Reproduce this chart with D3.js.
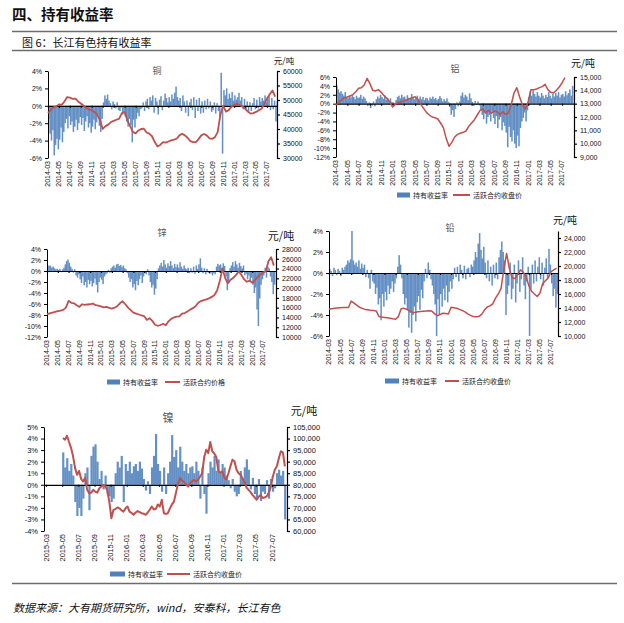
<!DOCTYPE html>
<html><head><meta charset="utf-8">
<script src="https://cdn.jsdelivr.net/npm/d3@7"></script>
<style>
body{margin:0;background:#fff}
text{font-family:"Liberation Sans",Arial,"Noto Sans CJK SC",sans-serif}
.cjk{font-family:"Noto Sans CJK SC","Liberation Sans",sans-serif}
</style>
</head><body><svg id="c" width="624" height="623"></svg>
<script>
// ---------------- DATA ----------------
// tick labels (every 2 months)
const labels2014 = ["2014-03","2014-05","2014-07","2014-09","2014-11","2015-01","2015-03","2015-05","2015-07","2015-09","2015-11","2016-01","2016-03","2016-05","2016-07","2016-09","2016-11","2017-01","2017-03","2017-05","2017-07"];
const labels2015 = ["2015-03","2015-05","2015-07","2015-09","2015-11","2016-01","2016-03","2016-05","2016-07","2016-09","2016-11","2017-01","2017-03","2017-05","2017-07"];

// Copper: holding return (%), weekly from 2014-03
const cuReturn = [
-1.5,-3.2,-4.0,-2.8, -5.7,-4.5,-3.8,-5.0, -3.9,-2.5,-4.2,-3.0, -2.0,-1.5,-2.6,-1.2,
-2.2,-1.8,-3.0,-2.4, -1.6,-2.8,-2.0,-1.3, -2.2,-1.4,-2.9,-1.8, -1.2,-2.5,-2.0,-3.1,
-2.4,-1.6,-2.7,-1.9, -1.0,-2.3,-3.0,-1.5, 0.4,1.2,0.8,1.3, 0.6,0.3,-0.4,0.5,
0.2,-0.3,0.4,-0.5, -0.6,-0.2,-1.0,-0.8, -1.2,-1.8,-2.4,-1.5, -2.2,-4.2,-1.6,-2.5,
-1.5,-0.8,-1.2,-0.4, -0.3,0.4,-0.6,0.5, 0.8,-0.4,1.0,0.6, 1.2,-0.8,0.9,0.5,
-1.0,0.7,1.1,-0.5, 0.6,1.4,0.9,0.4, 1.0,0.5,1.3,0.8, 1.5,2.2,1.0,0.6,
0.9,-0.6,1.2,0.5, -0.8,0.6,-1.2,0.4, 0.8,-0.5,1.0,-1.4, 0.7,-0.6,0.9,-0.9,
0.5,-0.8,0.6,-0.4, 0.8,-0.3,0.5,-0.7, -0.5,0.4,-0.9,0.3, -0.6,-1.2,3.8,-5.5,
1.8,1.2,2.0,0.8, 1.4,0.9,1.6,0.6, 1.2,0.7,1.0,1.5, 0.6,1.0,-0.4,0.8,
-0.5,0.5,-0.8,0.4, -0.6,0.3,0.9,-0.4, 0.7,-0.3,1.0,0.5, 0.9,0.6,1.2,0.4,
0.8,1.1,-0.5,0.9, -0.4,0.6,-1.8,0.5];
// Copper: active contract close (yuan/t), half-monthly from 2014-03
const cuPrice = [
45500,46500,47500,47800,48500,48300,49500,51000,50800,50400,50500,49500,48800,48000,47200,46800,
46500,45800,45000,43000,40000,41000,41500,42400,42800,43200,43600,45500,45800,43000,41000,39000,
38500,39500,40000,40100,38800,38400,37500,35500,34000,34500,35500,35300,35700,36100,36300,36650,
37800,38400,37800,37000,35800,35500,35500,36500,37800,38300,37800,36800,36600,37200,39000,45000,
48000,46000,46500,47600,48300,48700,48300,47800,47000,46000,45300,45500,45900,46500,47000,48500,
50500,52000,53300,51200];

// Aluminium
const alReturn = [
4.1,3.2,2.5,2.8, 2.2,1.8,2.6,1.5, 1.2,1.8,1.4,2.0, 1.5,1.0,1.8,1.3,
1.4,2.0,1.1,1.6, 1.2,0.6,-0.5,0.3, -1.0,-0.4,0.5,-0.6, 1.0,1.6,1.2,2.0,
1.5,1.1,1.8,0.9, 1.3,0.7,1.2,0.4, 0.3,-0.3,0.8,1.5, 1.8,1.2,2.0,1.4,
1.6,1.0,1.9,1.3, 1.2,2.2,1.5,1.0, 1.4,1.8,1.1,1.6, 1.0,1.5,0.8,1.3,
1.2,0.7,1.4,1.1, 1.6,1.0,1.3,0.8, 1.1,1.7,1.2,0.5, 1.0,0.6,1.2,0.4,
-0.8,-2.5,-1.5,-3.0, -1.2,0.3,-0.6,0.5, 1.8,2.5,1.4,2.0, 1.6,0.8,2.3,1.2,
0.4,-0.5,0.6,-0.3, 0.5,-0.4,-1.5,-2.5, -3.5,-2.0,-4.5,-3.0, -2.5,-4.0,-1.8,-3.2,
-4.6,-2.8,-5.5,-3.6, -3.0,-6.0,-4.2,-5.0, -6.5,-9.8,-5.2,-7.5, -8.5,-6.0,-9.0,-10.0,
-7.2,-9.6,-5.5,-4.0, -3.2,-2.0,-4.0,-1.5, 1.5,2.8,1.8,3.0, 2.2,1.6,2.6,1.8,
1.4,2.4,1.8,1.2, 2.0,1.5,2.6,1.8, 1.2,2.2,1.6,2.4, 1.8,2.6,1.4,2.0,
2.2,1.6,2.8,1.9, 2.4,3.2,1.8,4.0];
const alPrice = [
12900,13100,13300,13450,13500,13580,13680,13900,14150,14200,14400,14900,14500,14000,13950,14050,
13850,13600,13400,13150,12750,12950,13100,13150,13200,13270,13380,13450,13520,13300,12950,12650,
12350,12150,12000,11950,11850,11550,11200,10400,9800,10100,10500,10700,10780,10850,10950,11300,
11550,11800,12150,12500,12600,12300,12500,12280,12450,12400,12150,12400,12200,12300,12900,13800,
14200,13500,12900,12600,13150,14050,14050,14100,14200,14280,14450,14050,13850,13800,14000,14250,
14550,14950];

// Zinc
const znReturn = [
1.1,0.9,1.0,0.6, 0.8,0.5,0.3,0.4, 0.2,0.4,-0.2,0.3, 0.6,1.2,1.8,2.1,
1.5,0.8,0.4,-0.3, 0.3,-0.8,-1.2,-0.6, -1.5,-2.2,-1.0,-2.6, -2.0,-3.0,-1.6,-2.4,
-1.8,-2.8,-2.2,-1.4, -2.5,-3.9,-2.0,-1.2, -1.6,-2.4,-1.0,-0.6, -0.4,0.2,-0.3,0.5,
0.8,1.0,0.6,1.2, 1.3,0.9,1.1,0.7, 1.0,0.5,0.3,-0.4, -1.2,-2.0,-1.5,-3.0,
-2.4,-3.5,-1.8,-2.6, -1.5,-0.8,-2.2,-1.0, -0.4,-0.6,0.3,-0.8, -2.0,-3.0,-2.5,-4.3,
-3.2,-1.5,0.5,1.0, 1.5,0.8,2.0,1.2, 0.6,1.4,0.9,1.8, 1.0,0.5,1.3,0.7,
1.2,0.6,1.6,0.8, 0.4,1.0,0.5,0.3, 0.6,-0.4,0.5,-0.3, 0.8,-0.5,1.0,0.4,
1.2,2.3,0.6,-0.4, 0.5,-0.6,0.4,-0.3, -0.5,-0.3,-0.8,-0.4, -0.6,0.8,1.3,1.0,
1.2,0.6,1.4,0.9, -1.0,-3.5,-2.0,0.5, 1.0,1.6,0.8,1.8, 1.2,0.6,1.5,0.9,
0.5,1.0,-0.8,-0.5, -1.5,-0.8,-2.0,-1.2, -2.5,-4.0,-3.0,-7.0, -10.0,-5.0,-2.5,-1.5,
-0.8,0.6,-1.2,0.8, 0.5,-1.0,-2.0,-4.2, -2.5];
const znPrice = [
14700,14850,15000,15150,15300,15400,15550,16000,17400,17000,16900,16500,16150,16700,16550,16650,
16700,16850,16500,16400,16250,16050,16150,15950,15800,16000,16300,16900,17300,16700,16000,15500,
15000,14800,14600,14400,14250,13500,13850,13300,12500,12300,12450,12700,12400,13200,13700,14000,
14150,14200,14800,14900,15200,15600,15900,16300,17000,17350,17550,17700,17900,18200,18600,19500,
21500,24000,22000,21000,21700,22100,22700,23400,22700,21800,21300,21550,21100,21600,22300,22800,
23200,23400,25500,26300,24600];

// Lead
const pbReturn = [
0.4,0.2,-0.3,0.5, 0.3,-0.2,0.4,0.2, -0.3,0.5,0.3,0.6, 0.8,1.2,1.0,1.3,
4.0,1.2,0.8,1.0, 0.6,1.2,0.4,0.9, 0.5,0.8,-0.4,0.3, -0.5,-1.5,0.3,-0.8,
-1.0,-2.0,-1.4,-3.0, -2.4,-4.5,-2.0,-3.2, -1.8,-2.6,-1.2,-2.0, -1.5,-0.8,-1.8,-1.0,
-0.5,0.6,1.7,0.8, -0.5,-2.0,-3.0,-2.4, -3.5,-5.2,-3.8,-5.7, -4.0,-3.2,-4.6,-2.8,
-2.2,-3.5,-1.6,-2.4, -0.8,0.4,-0.5,1.0, 0.3,-0.6,-1.2,-2.0, -3.0,-6.0,-2.5,-4.0,
-2.0,-3.2,-1.5,-2.6, -1.2,-2.8,-1.8,-0.8, -1.5,-0.6,0.5,-0.4, 0.6,-0.8,0.8,0.3,
-0.5,0.7,-0.6,0.4, 0.5,-0.4,0.8,0.6, 1.2,2.0,1.5,2.8, 3.8,2.2,1.4,2.5,
1.0,-0.5,1.2,-0.8, 0.6,-1.2,0.8,-0.5, 1.0,-0.6,1.5,2.2, 3.0,2.0,1.2,-4.0,
-2.0,-1.2,1.0,-2.5, -1.5,0.8,-2.8,-1.0, 1.2,-1.8,-0.6,1.5, -1.2,-2.5,-0.8,0.6,
-6.0,-1.5,0.8,-1.0, 1.2,-0.8,0.6,1.5, -0.6,1.0,-1.2,0.5, 1.4,-0.5,2.3,0.8,
-1.0,-2.2,-1.5,-3.3, -2.0];
const pbPrice = [
13820,13900,13950,14000,14050,14060,14060,14070,15000,14700,14400,14100,13950,13800,13750,13680,
13630,13580,12800,12700,12650,12600,12530,12450,12400,12770,13900,13950,13820,13600,13400,13350,
13450,13500,13550,13580,13600,13580,13200,12900,13050,13250,13200,13150,14100,14050,13970,13800,
13650,13450,13150,12950,12770,12750,12800,13100,13700,14150,14300,14600,15400,16000,16800,19500,
21800,19600,18300,18200,18800,19450,19100,18500,17200,16400,16000,15640,16100,17500,17900,18300,
19200,19460,19700];

// Nickel (from 2015-05)
const niReturn = [
2.8,1.5,2.3,1.2, 1.8,0.8,-1.5,-2.7, -2.0,-2.7,-1.2,1.0, 1.5,-2.2,2.5,3.3,
3.5,2.0,0.5,1.2, -0.4,0.8,-0.8,-1.0, -1.5,-1.2,1.0,2.0, 1.5,2.5,-1.5,1.8,
1.2,2.0,1.0,1.6, 1.8,1.2,2.0,1.4, 0.5,-0.5,0.3,-0.8, 1.5,2.5,4.4,1.8,
1.2,-0.6,1.5,-0.8, 1.0,2.0,4.3,2.4, 3.0,1.5,3.3,2.0, 1.2,1.8,1.0,1.5,
1.6,1.0,2.0,1.2, -1.2,1.5,-0.8,-2.5, 1.0,2.0,1.5,2.5, 1.2,2.2,1.0,1.8,
1.5,0.8,0.4,-0.3, 0.5,-0.6,-1.0,-0.8, 1.2,0.5,1.5,2.2, 1.3,-0.4,0.6,-0.8,
-1.2,0.5,-1.4,-0.6, -0.8,0.4,-1.2,0.5, -0.6,-0.3,1.0,1.3, 0.8,1.2,-3.0];
const niPrice = [
100200,99500,101200,98500,96000,92300,87200,84300,86000,82500,81400,83000,77800,76300,76600,77800,
77000,76600,78500,79200,80000,79300,77500,72500,65500,69100,69500,70200,69800,69000,68400,69800,
70600,68400,67800,67000,68000,68600,68200,67700,67500,67000,68000,69200,70600,69300,69500,71500,
70600,73500,67700,67400,67700,69800,71500,72700,76500,80500,82900,81800,81200,80000,79200,80700,
81500,82100,81400,82300,83600,85000,92000,95200,93700,98500,94500,93500,92000,86000,85200,85800,
83000,82300,85000,88000,90800,90200,86500,85000,84300,82800,81000,78800,77800,76800,75500,74600,
73500,74800,75600,74300,74500,75000,76500,79000,83500,86500,88000,91500,94500,94000,88000];

// ---------------- DRAW ----------------
const svg = d3.select("#c");
const BAR = "#4f81bd", RED = "#c0504d";

// header
svg.append("text").attr("class","cjk").attr("x",12).attr("y",20).attr("font-size",14.5).attr("font-weight","bold").attr("fill","#111").text("四、持有收益率");
svg.append("line").attr("x1",12).attr("x2",617).attr("y1",31.5).attr("y2",31.5).attr("stroke","#6d6d6d").attr("stroke-width",1.5);
svg.append("text").attr("class","cjk").attr("x",22).attr("y",47).attr("font-size",11).attr("fill","#111").text("图 6：长江有色持有收益率");
svg.append("line").attr("x1",12).attr("x2",617).attr("y1",50.5).attr("y2",50.5).attr("stroke","#6d6d6d").attr("stroke-width",1.5);
svg.append("line").attr("x1",12).attr("x2",617).attr("y1",583.5).attr("y2",583.5).attr("stroke","#6d6d6d").attr("stroke-width",1.5);
svg.append("text").attr("class","cjk").attr("x",13).attr("y",612).attr("font-size",11).attr("font-style","italic").attr("fill","#111").text("数据来源：大有期货研究所，wind，安泰科，长江有色");

function panel(c){
  const g = svg.append("g");
  const x = d3.scaleLinear().domain(c.mDomain).range([c.left, c.right]);
  const yL = d3.scaleLinear().domain(c.pctDomain).range([c.bottom, c.top]);
  const yR = d3.scaleLinear().domain(c.priceDomain).range([c.bottom, c.top]);
  const bw = x(0.25) - x(0);
  // bars
  g.append("g").selectAll("rect").data(c.bars).join("rect")
    .attr("x", (d,i) => x(c.barStart + i*0.25))
    .attr("width", bw + 0.15)
    .attr("y", d => yL(Math.max(0,d)))
    .attr("height", d => Math.abs(yL(d) - yL(0)))
    .attr("fill", BAR).attr("opacity", 0.88);
  // zero line (category axis)
  const nT = c.labels.length;
  const xa = g.append("g").attr("transform",`translate(0,${yL(0)})`)
    .call(d3.axisBottom(x).tickValues(d3.range(nT).map(i=>i*2)).tickSize(2).tickSizeOuter(0).tickFormat(""));
  xa.selectAll("path,line").attr("stroke","#000").attr("stroke-width",1.2);
  // rotated date labels
  g.append("g").selectAll("text").data(c.labels).join("text")
    .attr("transform",(d,i)=>`translate(${x(i*2)},${c.bottom+3}) rotate(-90)`)
    .attr("text-anchor","end").attr("dy","0.35em")
    .attr("font-size",c.fx||7).attr("fill","#111").text(d=>d);
  // left axis
  const la = g.append("g").attr("transform",`translate(${c.left},0)`)
    .call(d3.axisLeft(yL).tickValues(c.pctTicks).tickSize(3).tickSizeOuter(0).tickFormat(d=>d+"%"));
  la.selectAll("path,line").attr("stroke","#000");
  la.selectAll("text").attr("font-size",c.fy||7).attr("fill","#111").attr("font-family","Liberation Sans, Arial, sans-serif");
  // right axis
  const ra = g.append("g").attr("transform",`translate(${c.right},0)`)
    .call(d3.axisRight(yR).tickValues(c.priceTicks).tickSize(3).tickSizeOuter(0).tickFormat(c.priceFmt));
  ra.selectAll("path,line").attr("stroke","#000").attr("stroke-width",1.2);
  ra.selectAll("text").attr("font-size",c.fy||7).attr("fill","#111").attr("font-family","Liberation Sans, Arial, sans-serif");
  // price line
  const line = d3.line().x((d,i)=>x(c.lineStart + i*c.lineStep)).y(d=>yR(d));
  g.append("path").datum(c.price).attr("d",line).attr("fill","none")
    .attr("stroke",RED).attr("stroke-width",c.lw||1.8).attr("stroke-linejoin","round");
  // titles
  g.append("text").attr("class","cjk").attr("x",c.title[1]).attr("y",c.title[2]).attr("text-anchor","middle")
    .attr("font-size",c.title[3]).attr("fill","#555").text(c.title[0]);
  g.append("text").attr("class","cjk").attr("x",c.unit[0]).attr("y",c.unit[1]).attr("text-anchor","middle")
    .attr("font-size",c.unit[2]).attr("fill","#111").text("元/吨");
  // legend
  if(c.legend){
    const L = c.legend;
    g.append("rect").attr("x",L.x).attr("y",L.y-2.5).attr("width",L.sw).attr("height",5).attr("fill",BAR);
    g.append("text").attr("class","cjk").attr("x",L.x+L.sw+3).attr("y",L.y+2.5).attr("font-size",7).attr("fill","#222").text("持有收益率");
    g.append("line").attr("x1",L.x2).attr("x2",L.x2+L.lw).attr("y1",L.y).attr("y2",L.y).attr("stroke",RED).attr("stroke-width",2);
    g.append("text").attr("class","cjk").attr("x",L.x2+L.lw+3).attr("y",L.y+2.5).attr("font-size",7).attr("fill","#222").text(L.label);
  }
}

const noComma = d3.format("d"), comma = d3.format(",");

panel({mDomain:[0,41.83], left:48, right:277, top:71, bottom:158,
  pctDomain:[-6,4], pctTicks:d3.range(-6,5,2), priceDomain:[30000,60000], priceTicks:d3.range(30000,60001,5000), priceFmt:noComma,
  bars:cuReturn, barStart:0, price:cuPrice, lineStart:0, lineStep:0.5, labels:labels2014,
  title:["铜",157,74,9], unit:[284,64,8.5]});

panel({mDomain:[0,42.12], left:336, right:574, top:77, bottom:157,
  pctDomain:[-12,6], pctTicks:d3.range(-12,7,2), priceDomain:[9000,15000], priceTicks:d3.range(9000,15001,1000), priceFmt:comma,
  bars:alReturn, barStart:0, price:alPrice, lineStart:0, lineStep:0.5, labels:labels2014, lw:1.5,
  title:["铝",455,72,9], unit:[583,67,10],
  legend:{x:397,y:195,sw:13,x2:453,lw:17,label:"活跃合约收盘价"}});

panel({mDomain:[0,42.4], left:47, right:276, top:249, bottom:337,
  pctDomain:[-12,4], pctTicks:d3.range(-12,5,2), priceDomain:[10000,28000], priceTicks:d3.range(10000,28001,2000), priceFmt:noComma,
  bars:znReturn, barStart:0, price:znPrice, lineStart:0, lineStep:0.5, labels:labels2014,
  title:["锌",162,236,9], unit:[281,240,11],
  legend:{x:107,y:382,sw:13,x2:165,lw:15,label:"活跃合约价格"}});

panel({mDomain:[0,41.26], left:329, right:558, top:231, bottom:336,
  pctDomain:[-6,4], pctTicks:d3.range(-6,5,2), priceDomain:[10000,25000], priceTicks:d3.range(10000,24001,2000), priceFmt:comma,
  bars:pbReturn, barStart:0, price:pbPrice, lineStart:0, lineStep:0.5, labels:labels2014, lw:1.5,
  title:["铅",450,231,9], unit:[565,224,10],
  legend:{x:385,y:381,sw:14,x2:445,lw:14,label:"活跃合约收盘价"}});

panel({mDomain:[-0.25,29.86], left:44, right:287, top:427, bottom:531,
  pctDomain:[-4,5], pctTicks:d3.range(-4,6,1), priceDomain:[60000,105000], priceTicks:d3.range(60000,105001,5000), priceFmt:comma,
  bars:niReturn, barStart:2.0, price:niPrice, lineStart:2.1, lineStep:0.25, labels:labels2015, fx:7.5, fy:7.5, lw:2,
  title:["镍",168,422,11], unit:[304,415,11],
  legend:{x:110,y:574,sw:15,x2:167,lw:23,label:"活跃合约收盘价"}});
</script>
</body></html>
